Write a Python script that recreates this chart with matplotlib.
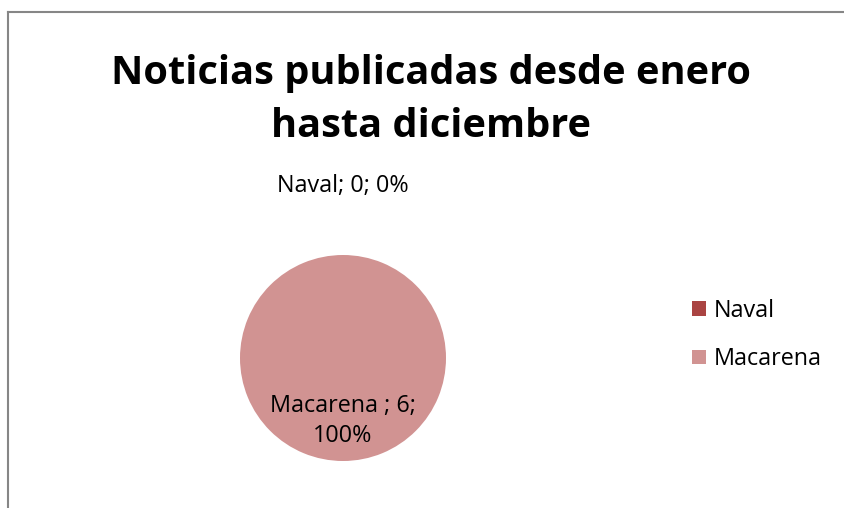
import matplotlib
matplotlib.use("Agg")
import matplotlib.pyplot as plt
from matplotlib.patches import Patch

categories = ["Naval", "Macarena"]
values = [0, 6]
colors = ["#AA4442", "#D19392"]
title = "Noticias publicadas desde enero\nhasta diciembre"

plt.rcParams['font.family'] = ['Open Sans', 'DejaVu Sans']

W, H = 845, 508
fig = plt.figure(figsize=(W / 100, H / 100), dpi=100)

# chart border (top and left edges visible)
fig.add_artist(plt.Line2D([8 / W, 1], [1 - 12 / H, 1 - 12 / H], color="#868686", lw=1.5))
fig.add_artist(plt.Line2D([8 / W, 8 / W], [0, 1 - 12 / H], color="#868686", lw=1.5))

fig.text(431 / W, 1 - 100 / H, title, ha="center", va="center", fontsize=28.6,
         fontweight="bold", linespacing=1.45)

# pie centred at (343, 358) px, radius 103 px
r = 103
ax = fig.add_axes([(343 - r) / W, 1 - (358 + r) / H, 2 * r / W, 2 * r / H])
ax.pie(values, colors=colors, startangle=90, counterclock=False, radius=1)
ax.set_xlim(-1, 1)
ax.set_ylim(-1, 1)
ax.set_aspect("equal")
ax.axis("off")

total = sum(values)
pct = [round(v / total * 100) for v in values]
ax.text(0, 1.67, f"{categories[0]}; {values[0]}; {pct[0]}%", ha="center", va="center",
        fontsize=16.8, clip_on=False)
ax.text(0, -0.61, f"{categories[1]} ; {values[1]};\n{pct[1]}%", ha="center", va="center",
        fontsize=16.8, linespacing=1.3, clip_on=False)

handles = [Patch(facecolor=c, edgecolor="none") for c in colors]
fig.legend(handles, categories, loc="center left", bbox_to_anchor=(671 / W, 1 - 335 / H),
           frameon=False, fontsize=16.8, handlelength=0.6, handleheight=0.6,
           handletextpad=0.35, labelspacing=1.05)

fig.savefig("out.png", dpi=100)
